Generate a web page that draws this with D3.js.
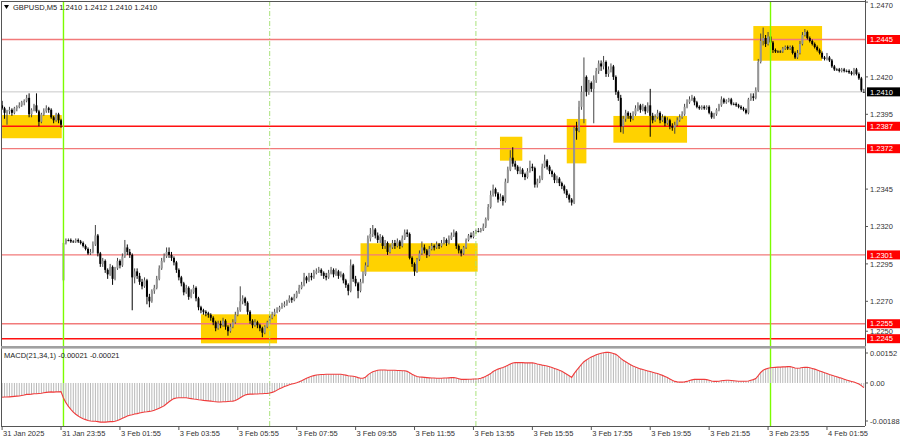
<!DOCTYPE html>
<html><head><meta charset="utf-8">
<script src="https://cdn.jsdelivr.net/npm/d3@7"></script>
<style>body{margin:0;background:#fff}svg{display:block}text{font-family:"Liberation Sans",Arial,sans-serif;font-size:7.5px}</style>
</head><body><svg id="c" width="900" height="441"></svg>
<script>
// ---------------- DATA ----------------
const symbol = "GBPUSD,M5";
const lastBar = ["1.2410","1.2412","1.2410","1.2410"];
const macdLabel = "MACD(21,34,1) -0.00021 -0.00021";

const open = [
1.2401,1.2399,1.2396,1.2397,1.2398,1.2396,1.2399,1.2400,1.2401,1.2403,
1.2404,1.2406,1.2395,1.2398,1.2401,1.2397,1.2390,1.2395,1.2397,1.2399,
1.2398,1.2393,1.2391,1.2395,1.2391,1.2284,1.2309,1.2311,1.2311,1.2310,
1.2310,1.2311,1.2310,1.2309,1.2307,1.2305,1.2302,1.2303,1.2308,1.2314,
1.2302,1.2295,1.2297,1.2291,1.2288,1.2293,1.2285,1.2292,1.2297,1.2294,
1.2300,1.2306,1.2303,1.2301,1.2286,1.2290,1.2287,1.2283,1.2280,1.2284,
1.2273,1.2270,1.2277,1.2279,1.2285,1.2292,1.2297,1.2300,1.2303,1.2301,
1.2299,1.2296,1.2291,1.2286,1.2282,1.2276,1.2279,1.2273,1.2276,1.2279,
1.2272,1.2266,1.2264,1.2263,1.2262,1.2261,1.2259,1.2256,1.2252,1.2255,
1.2254,1.2257,1.2253,1.2250,1.2253,1.2256,1.2261,1.2264,1.2270,1.2272,
1.2269,1.2263,1.2257,1.2254,1.2256,1.2254,1.2252,1.2249,1.2253,1.2256,
1.2259,1.2261,1.2263,1.2264,1.2266,1.2267,1.2268,1.2270,1.2272,1.2271,
1.2273,1.2276,1.2279,1.2281,1.2286,1.2284,1.2287,1.2286,1.2289,1.2290,
1.2291,1.2289,1.2287,1.2286,1.2289,1.2291,1.2288,1.2290,1.2287,1.2288,
1.2284,1.2281,1.2277,1.2294,1.2285,1.2282,1.2277,1.2283,1.2288,1.2294,
1.2312,1.2315,1.2318,1.2314,1.2311,1.2313,1.2307,1.2309,1.2303,1.2306,
1.2309,1.2307,1.2310,1.2307,1.2312,1.2316,1.2315,1.2299,1.2295,1.2290,
1.2298,1.2302,1.2306,1.2304,1.2301,1.2305,1.2307,1.2306,1.2308,1.2307,
1.2309,1.2311,1.2309,1.2312,1.2314,1.2316,1.2307,1.2304,1.2302,1.2306,
1.2311,1.2314,1.2313,1.2316,1.2317,1.2317,1.2318,1.2320,1.2325,1.2333,
1.2341,1.2345,1.2342,1.2338,1.2340,1.2337,1.2350,1.2358,1.2366,1.2362,
1.2360,1.2357,1.2358,1.2355,1.2353,1.2357,1.2360,1.2359,1.2348,1.2350,
1.2352,1.2360,1.2364,1.2360,1.2357,1.2355,1.2351,1.2352,1.2349,1.2347,
1.2344,1.2341,1.2338,1.2336,1.2386,1.2384,1.2400,1.2410,1.2420,1.2410,
1.2416,1.2412,1.2418,1.2424,1.2429,1.2427,1.2430,1.2422,1.2425,1.2427,
1.2420,1.2410,1.2406,1.2387,1.2392,1.2396,1.2394,1.2392,1.2395,1.2399,
1.2401,1.2398,1.2400,1.2397,1.2401,1.2394,1.2391,1.2393,1.2396,1.2391,
1.2393,1.2389,1.2391,1.2387,1.2386,1.2388,1.2391,1.2393,1.2395,1.2400,
1.2403,1.2405,1.2406,1.2403,1.2400,1.2399,1.2400,1.2399,1.2400,1.2396,
1.2393,1.2395,1.2398,1.2401,1.2405,1.2403,1.2404,1.2405,1.2402,1.2402,
1.2401,1.2400,1.2399,1.2398,1.2396,1.2405,1.2407,1.2406,1.2411,1.2430,
1.2444,1.2446,1.2442,1.2447,1.2443,1.2438,1.2437,1.2437,1.2437,1.2439,
1.2440,1.2439,1.2440,1.2436,1.2433,1.2436,1.2442,1.2448,1.2450,1.2446,
1.2444,1.2442,1.2440,1.2438,1.2436,1.2433,1.2432,1.2433,1.2431,1.2427,
1.2425,1.2425,1.2424,1.2425,1.2424,1.2424,1.2423,1.2422,1.2425,1.2422,
1.2419,1.2410];

const high = [
1.2404,1.2400,1.2398,1.2400,1.2399,1.2400,1.2401,1.2403,1.2404,1.2405,
1.2408,1.2409,1.2399,1.2402,1.2409,1.2398,1.2396,1.2399,1.2401,1.2400,
1.2399,1.2394,1.2396,1.2396,1.2392,1.2311,1.2312,1.2312,1.2312,1.2311,
1.2312,1.2312,1.2311,1.2310,1.2308,1.2306,1.2305,1.2310,1.2321,1.2315,
1.2303,1.2299,1.2298,1.2292,1.2295,1.2294,1.2293,1.2299,1.2298,1.2302,
1.2311,1.2308,1.2305,1.2302,1.2292,1.2292,1.2289,1.2285,1.2286,1.2285,
1.2275,1.2278,1.2281,1.2287,1.2294,1.2299,1.2302,1.2306,1.2306,1.2303,
1.2300,1.2297,1.2292,1.2287,1.2283,1.2281,1.2280,1.2278,1.2281,1.2280,
1.2273,1.2267,1.2265,1.2264,1.2263,1.2262,1.2260,1.2257,1.2257,1.2257,
1.2259,1.2258,1.2254,1.2255,1.2258,1.2263,1.2266,1.2280,1.2274,1.2273,
1.2270,1.2264,1.2258,1.2258,1.2257,1.2255,1.2253,1.2254,1.2257,1.2261,
1.2263,1.2265,1.2266,1.2267,1.2269,1.2270,1.2271,1.2274,1.2273,1.2275,
1.2277,1.2281,1.2283,1.2289,1.2287,1.2289,1.2289,1.2291,1.2292,1.2293,
1.2292,1.2290,1.2289,1.2291,1.2293,1.2292,1.2292,1.2291,1.2290,1.2289,
1.2285,1.2282,1.2298,1.2295,1.2287,1.2283,1.2285,1.2290,1.2296,1.2314,
1.2319,1.2321,1.2319,1.2316,1.2315,1.2314,1.2311,1.2310,1.2308,1.2311,
1.2311,1.2312,1.2311,1.2314,1.2318,1.2318,1.2316,1.2300,1.2296,1.2299,
1.2304,1.2310,1.2308,1.2305,1.2307,1.2309,1.2308,1.2310,1.2309,1.2311,
1.2313,1.2312,1.2314,1.2316,1.2318,1.2317,1.2308,1.2305,1.2307,1.2312,
1.2315,1.2316,1.2317,1.2318,1.2319,1.2319,1.2322,1.2326,1.2335,1.2344,
1.2348,1.2346,1.2343,1.2342,1.2341,1.2352,1.2360,1.2371,1.2373,1.2364,
1.2361,1.2360,1.2359,1.2356,1.2359,1.2364,1.2362,1.2360,1.2352,1.2354,
1.2362,1.2368,1.2365,1.2361,1.2358,1.2356,1.2354,1.2353,1.2350,1.2348,
1.2345,1.2342,1.2339,1.2387,1.2390,1.2404,1.2414,1.2433,1.2421,1.2418,
1.2417,1.2421,1.2426,1.2431,1.2431,1.2434,1.2431,1.2427,1.2429,1.2428,
1.2421,1.2411,1.2408,1.2394,1.2398,1.2397,1.2396,1.2397,1.2401,1.2403,
1.2402,1.2402,1.2401,1.2403,1.2412,1.2396,1.2395,1.2398,1.2397,1.2395,
1.2394,1.2393,1.2392,1.2389,1.2390,1.2393,1.2395,1.2397,1.2402,1.2405,
1.2407,1.2408,1.2407,1.2404,1.2401,1.2401,1.2401,1.2401,1.2401,1.2397,
1.2396,1.2399,1.2402,1.2407,1.2406,1.2405,1.2406,1.2406,1.2403,1.2403,
1.2402,1.2401,1.2400,1.2399,1.2406,1.2409,1.2409,1.2413,1.2432,1.2449,
1.2453,1.2448,1.2450,1.2448,1.2444,1.2439,1.2438,1.2438,1.2440,1.2441,
1.2441,1.2441,1.2441,1.2437,1.2438,1.2444,1.2450,1.2452,1.2451,1.2447,
1.2445,1.2443,1.2441,1.2439,1.2437,1.2434,1.2436,1.2434,1.2432,1.2428,
1.2426,1.2426,1.2426,1.2426,1.2425,1.2425,1.2424,1.2426,1.2426,1.2423,
1.2420,1.2412];

const low = [
1.2398,1.2392,1.2388,1.2395,1.2394,1.2395,1.2397,1.2399,1.2400,1.2401,
1.2403,1.2393,1.2393,1.2397,1.2396,1.2387,1.2389,1.2394,1.2396,1.2396,
1.2392,1.2389,1.2390,1.2389,1.2386,1.2283,1.2308,1.2310,1.2309,1.2309,
1.2309,1.2309,1.2308,1.2306,1.2304,1.2301,1.2301,1.2302,1.2307,1.2300,
1.2293,1.2293,1.2289,1.2285,1.2287,1.2281,1.2284,1.2291,1.2292,1.2293,
1.2299,1.2301,1.2299,1.2264,1.2282,1.2285,1.2281,1.2278,1.2279,1.2268,
1.2266,1.2269,1.2275,1.2278,1.2284,1.2291,1.2296,1.2299,1.2299,1.2297,
1.2294,1.2289,1.2284,1.2280,1.2274,1.2275,1.2271,1.2272,1.2275,1.2270,
1.2264,1.2262,1.2261,1.2260,1.2259,1.2257,1.2254,1.2250,1.2251,1.2252,
1.2253,1.2251,1.2247,1.2249,1.2252,1.2255,1.2260,1.2263,1.2268,1.2267,
1.2261,1.2255,1.2252,1.2253,1.2252,1.2250,1.2246,1.2248,1.2252,1.2255,
1.2258,1.2260,1.2262,1.2263,1.2265,1.2266,1.2267,1.2269,1.2269,1.2270,
1.2272,1.2275,1.2278,1.2280,1.2282,1.2283,1.2284,1.2285,1.2288,1.2289,
1.2287,1.2285,1.2284,1.2285,1.2288,1.2286,1.2287,1.2285,1.2286,1.2282,
1.2279,1.2274,1.2276,1.2283,1.2280,1.2272,1.2276,1.2282,1.2287,1.2293,
1.2310,1.2313,1.2312,1.2309,1.2309,1.2305,1.2305,1.2301,1.2302,1.2305,
1.2305,1.2306,1.2305,1.2306,1.2311,1.2313,1.2298,1.2293,1.2287,1.2289,
1.2297,1.2301,1.2302,1.2299,1.2300,1.2304,1.2304,1.2305,1.2305,1.2306,
1.2308,1.2307,1.2308,1.2311,1.2313,1.2305,1.2302,1.2300,1.2301,1.2305,
1.2310,1.2312,1.2312,1.2315,1.2316,1.2316,1.2317,1.2319,1.2324,1.2332,
1.2340,1.2340,1.2336,1.2337,1.2334,1.2336,1.2349,1.2357,1.2360,1.2358,
1.2355,1.2355,1.2353,1.2351,1.2352,1.2356,1.2357,1.2346,1.2346,1.2349,
1.2351,1.2359,1.2358,1.2355,1.2353,1.2349,1.2349,1.2347,1.2345,1.2342,
1.2339,1.2336,1.2334,1.2335,1.2378,1.2383,1.2398,1.2389,1.2407,1.2408,
1.2410,1.2389,1.2416,1.2422,1.2424,1.2425,1.2420,1.2420,1.2423,1.2418,
1.2408,1.2404,1.2383,1.2382,1.2390,1.2392,1.2390,1.2391,1.2394,1.2397,
1.2396,1.2397,1.2395,1.2396,1.2380,1.2389,1.2390,1.2392,1.2389,1.2390,
1.2387,1.2388,1.2385,1.2384,1.2382,1.2387,1.2390,1.2392,1.2394,1.2399,
1.2402,1.2404,1.2401,1.2399,1.2398,1.2398,1.2398,1.2398,1.2395,1.2392,
1.2392,1.2394,1.2397,1.2400,1.2402,1.2402,1.2403,1.2401,1.2401,1.2400,
1.2399,1.2398,1.2397,1.2395,1.2395,1.2404,1.2404,1.2405,1.2410,1.2429,
1.2441,1.2440,1.2441,1.2441,1.2436,1.2436,1.2436,1.2436,1.2436,1.2438,
1.2438,1.2438,1.2435,1.2432,1.2432,1.2435,1.2441,1.2447,1.2445,1.2443,
1.2441,1.2439,1.2437,1.2435,1.2432,1.2431,1.2431,1.2430,1.2426,1.2424,
1.2424,1.2423,1.2423,1.2423,1.2423,1.2422,1.2421,1.2421,1.2421,1.2418,
1.2410,1.2410];

const close = [
1.2399,1.2396,1.2397,1.2398,1.2396,1.2399,1.2400,1.2401,1.2403,1.2404,
1.2406,1.2395,1.2398,1.2401,1.2397,1.2390,1.2395,1.2397,1.2399,1.2398,
1.2393,1.2391,1.2395,1.2391,1.2388,1.2309,1.2311,1.2311,1.2310,1.2310,
1.2311,1.2310,1.2309,1.2307,1.2305,1.2302,1.2303,1.2308,1.2314,1.2302,
1.2295,1.2297,1.2291,1.2288,1.2293,1.2285,1.2292,1.2297,1.2294,1.2300,
1.2306,1.2303,1.2301,1.2286,1.2290,1.2287,1.2283,1.2280,1.2284,1.2273,
1.2270,1.2277,1.2279,1.2285,1.2292,1.2297,1.2300,1.2303,1.2301,1.2299,
1.2296,1.2291,1.2286,1.2282,1.2276,1.2279,1.2273,1.2276,1.2279,1.2272,
1.2266,1.2264,1.2263,1.2262,1.2261,1.2259,1.2256,1.2252,1.2255,1.2254,
1.2257,1.2253,1.2250,1.2253,1.2256,1.2261,1.2264,1.2270,1.2272,1.2269,
1.2263,1.2257,1.2254,1.2256,1.2254,1.2252,1.2249,1.2253,1.2256,1.2259,
1.2261,1.2263,1.2264,1.2266,1.2267,1.2268,1.2270,1.2272,1.2271,1.2273,
1.2276,1.2279,1.2281,1.2286,1.2284,1.2287,1.2286,1.2289,1.2290,1.2291,
1.2289,1.2287,1.2286,1.2289,1.2291,1.2288,1.2290,1.2287,1.2288,1.2284,
1.2281,1.2277,1.2294,1.2285,1.2282,1.2277,1.2283,1.2288,1.2294,1.2312,
1.2315,1.2318,1.2314,1.2311,1.2313,1.2307,1.2309,1.2303,1.2306,1.2309,
1.2307,1.2310,1.2307,1.2312,1.2316,1.2315,1.2299,1.2295,1.2290,1.2298,
1.2302,1.2306,1.2304,1.2301,1.2305,1.2307,1.2306,1.2308,1.2307,1.2309,
1.2311,1.2309,1.2312,1.2314,1.2316,1.2307,1.2304,1.2302,1.2306,1.2311,
1.2314,1.2313,1.2316,1.2317,1.2317,1.2318,1.2320,1.2325,1.2333,1.2341,
1.2345,1.2342,1.2338,1.2340,1.2337,1.2350,1.2358,1.2366,1.2362,1.2360,
1.2357,1.2358,1.2355,1.2353,1.2357,1.2360,1.2359,1.2348,1.2350,1.2352,
1.2360,1.2364,1.2360,1.2357,1.2355,1.2351,1.2352,1.2349,1.2347,1.2344,
1.2341,1.2338,1.2336,1.2386,1.2384,1.2400,1.2410,1.2420,1.2410,1.2416,
1.2412,1.2418,1.2424,1.2429,1.2427,1.2430,1.2422,1.2425,1.2427,1.2420,
1.2410,1.2406,1.2387,1.2392,1.2396,1.2394,1.2392,1.2395,1.2399,1.2401,
1.2398,1.2400,1.2397,1.2401,1.2394,1.2391,1.2393,1.2396,1.2391,1.2393,
1.2389,1.2391,1.2387,1.2386,1.2388,1.2391,1.2393,1.2395,1.2400,1.2403,
1.2405,1.2406,1.2403,1.2400,1.2399,1.2400,1.2399,1.2400,1.2396,1.2393,
1.2395,1.2398,1.2401,1.2405,1.2403,1.2404,1.2405,1.2402,1.2402,1.2401,
1.2400,1.2399,1.2398,1.2396,1.2405,1.2407,1.2406,1.2411,1.2430,1.2444,
1.2446,1.2442,1.2447,1.2443,1.2438,1.2437,1.2437,1.2437,1.2439,1.2440,
1.2439,1.2440,1.2436,1.2433,1.2436,1.2442,1.2448,1.2450,1.2446,1.2444,
1.2442,1.2440,1.2438,1.2436,1.2433,1.2432,1.2433,1.2431,1.2427,1.2425,
1.2425,1.2424,1.2425,1.2424,1.2424,1.2423,1.2422,1.2425,1.2422,1.2419,
1.2411,1.2410];

// MACD main line, in units of 0.00001 (signal SMA(1) equals it)
const macdE5 = [
-64,-63,-63,-62,-61,-60,-59,-58,-56,-54,
-51,-51,-50,-48,-48,-47,-46,-44,-42,-41,
-40,-41,-40,-40,-39,-67,-88,-105,-118,-130,
-140,-148,-155,-160,-164,-168,-170,-171,-171,-173,
-175,-175,-175,-174,-173,-173,-171,-168,-163,-158,
-153,-148,-144,-142,-139,-137,-134,-132,-130,-129,
-127,-125,-122,-118,-113,-108,-102,-93,-84,-76,
-70,-67,-66,-66,-66,-66,-68,-70,-72,-73,
-75,-76,-78,-79,-80,-81,-83,-84,-85,-85,
-84,-84,-83,-82,-81,-78,-73,-66,-59,-54,
-51,-50,-50,-49,-49,-48,-48,-47,-47,-45,
-42,-38,-32,-26,-21,-16,-12,-8,-5,-2,
1,5,10,16,21,26,30,33,36,37,
38,38,39,39,39,39,39,39,39,37,
35,32,31,30,28,24,21,21,26,36,
44,50,54,57,58,58,58,57,57,57,
57,56,56,55,55,52,46,39,33,29,
27,26,25,24,23,22,22,21,21,21,
22,22,23,24,24,22,19,16,16,16,
17,17,18,18,19,21,25,30,36,42,
51,57,62,66,69,74,79,85,89,91,
91,91,91,90,90,90,90,88,85,83,
80,78,76,73,69,65,61,57,52,46,
39,32,25,42,56,70,83,95,103,110,
116,121,126,130,133,135,137,137,135,132,
128,120,110,102,95,88,82,76,71,67,
63,60,57,54,51,48,45,42,38,34,
29,24,18,12,7,5,4,4,5,7,
11,14,16,16,16,16,16,15,12,9,
7,7,8,10,11,12,12,11,10,9,
8,8,8,8,9,12,15,20,33,47,
57,62,66,68,69,70,71,71,72,72,
73,73,70,67,66,67,69,70,70,68,
65,62,58,54,50,46,42,38,35,31,
28,24,21,17,13,10,7,4,0,-5,
-12,-21];

const timeLabels = ["31 Jan 2025","31 Jan 23:55","3 Feb 01:55","3 Feb 03:55","3 Feb 05:55","3 Feb 07:55","3 Feb 09:55","3 Feb 11:55","3 Feb 13:55","3 Feb 15:55","3 Feb 17:55","3 Feb 19:55","3 Feb 21:55","3 Feb 23:55","4 Feb 01:55"];
const timeLabelBars = [0,24,48,72,96,120,144,168,192,216,240,264,288,312,336];

const priceTicks = [1.2470,1.2420,1.2395,1.2345,1.2320,1.2295,1.2270,1.2250];
const levels = [1.2445,1.2387,1.2372,1.2301,1.2255,1.2245];
const strongLevels = [1.2387,1.2245];
const currentPrice = 1.2410;

const dayLineBars = [25,313];
const sessionLineBars = [109,193];

const zoneStart = [0,81,146,202.8,230,249,306];
const zoneEnd   = [24.3,112,193.7,211.9,238,279,334];
const zoneTop   = [1.23945,1.22613,1.23088,1.23800,1.23919,1.23939,1.24540];
const zoneBot   = [1.23790,1.22419,1.22898,1.23640,1.23622,1.23760,1.24308];

const macdTicks = [0.00152,0.00,-0.00188];
const macdTickText = ["0.00152","0.00","-0.00188"];

// ---------------- DRAW ----------------
const svg = d3.select("#c");
const N = close.length;
const plotR = 865, mainTop = 1, mainBot = 345, macdTop = 349, macdBot = 426;

const x = d3.scaleLinear().domain([0, 351]).range([2.1, 2.1 + 351*2.455]);
const y = d3.scaleLinear().domain([1.2245, 1.2445]).range([338.7, 39.5]);
const ym = d3.scaleLinear().domain([-0.00188, 0.00152]).range([425, 349]);

svg.append("rect").attr("width",900).attr("height",441).attr("fill","#fff");

const defs = svg.append("defs");
defs.append("clipPath").attr("id","cm").append("rect")
  .attr("x",2).attr("y",mainTop+0.5).attr("width",plotR-2).attr("height",mainBot-mainTop-0.5);
defs.append("clipPath").attr("id","cd").append("rect")
  .attr("x",2).attr("y",macdTop).attr("width",plotR-2).attr("height",macdBot-macdTop);

const gm = svg.append("g").attr("clip-path","url(#cm)");

// zones
gm.selectAll("rect.zone").data(zoneStart).join("rect").attr("class","zone")
  .attr("x",(d,i)=>x(d)).attr("width",(d,i)=>x(zoneEnd[i])-x(d))
  .attr("y",(d,i)=>y(zoneTop[i])).attr("height",(d,i)=>y(zoneBot[i])-y(zoneTop[i]))
  .attr("fill","#FFD200");

// current price line
gm.append("line").attr("x1",2).attr("x2",plotR).attr("y1",y(currentPrice)).attr("y2",y(currentPrice))
  .attr("stroke","#c8c8c8").attr("stroke-width",1);

// level lines
gm.selectAll("line.lvl").data(levels).join("line").attr("class","lvl")
  .attr("x1",2).attr("x2",plotR).attr("y1",d=>y(d)).attr("y2",d=>y(d))
  .attr("stroke",d=>strongLevels.includes(d)?"#ff1010":"#f27a7a")
  .attr("stroke-width",d=>strongLevels.includes(d)?1.6:1.3);

// vertical lines (both panels)
const vl = svg.append("g");
sessionLineBars.forEach(b=>{
  vl.append("line").attr("x1",x(b)).attr("x2",x(b)).attr("y1",mainTop).attr("y2",macdBot)
    .attr("stroke","#a9e27a").attr("stroke-width",1).attr("stroke-dasharray","5,2,1,2");
});
dayLineBars.forEach(b=>{
  vl.append("line").attr("x1",x(b)).attr("x2",x(b)).attr("y1",mainTop).attr("y2",macdBot)
    .attr("stroke","#7CFC00").attr("stroke-width",1.4);
});

// candles
const idx = d3.range(N);
const cg = gm.append("g");
cg.selectAll("line.wick").data(idx).join("line").attr("class","wick")
  .attr("x1",i=>x(i)).attr("x2",i=>x(i))
  .attr("y1",i=>y(high[i])).attr("y2",i=>y(low[i]))
  .attr("stroke",i=>close[i]>=open[i]?"#444":"#000").attr("stroke-width",1);
cg.selectAll("rect.body").data(idx).join("rect").attr("class","body")
  .attr("x",i=>x(i)-1).attr("width",2)
  .attr("y",i=>y(Math.max(open[i],close[i])))
  .attr("height",i=>Math.max(0.9, Math.abs(y(open[i])-y(close[i]))))
  .attr("fill",i=>close[i]>open[i]?"#959595":"#000");

// MACD
const gd = svg.append("g").attr("clip-path","url(#cd)");
const macd = macdE5.map(v=>v*1e-5);
gd.selectAll("line.h").data(idx).join("line").attr("class","h")
  .attr("x1",i=>x(i)).attr("x2",i=>x(i))
  .attr("y1",ym(0)).attr("y2",i=>ym(macd[i]))
  .attr("stroke","#b8b8b8").attr("stroke-width",1);
gd.append("path").datum(idx)
  .attr("d",d3.line().x(i=>x(i)).y(i=>ym(macd[i])))
  .attr("fill","none").attr("stroke","#f03c3c").attr("stroke-width",1.1);

// frames
const fr = svg.append("g").attr("stroke","#555").attr("fill","none");
fr.append("line").attr("x1",1).attr("x2",plotR).attr("y1",mainTop+0.5).attr("y2",mainTop+0.5);
fr.append("line").attr("x1",1.5).attr("x2",1.5).attr("y1",mainTop).attr("y2",macdBot);
fr.append("line").attr("x1",plotR+0.5).attr("x2",plotR+0.5).attr("y1",0).attr("y2",macdBot);
fr.append("line").attr("x1",1).attr("x2",plotR).attr("y1",macdBot+0.5).attr("y2",macdBot+0.5);
svg.append("rect").attr("x",1).attr("y",mainBot+1).attr("width",plotR).attr("height",2.6).attr("fill","#a0a0a0");

// header
svg.append("path").attr("d","M4,5 L9,5 L6.5,9 Z").attr("fill","#000");
svg.append("text").attr("x",13).attr("y",10).attr("fill","#222")
  .text(symbol + "  " + lastBar.join(" "));
svg.append("text").attr("x",4).attr("y",358).attr("fill","#222").text(macdLabel);

// right price axis ticks
const ax = svg.append("g");
ax.selectAll("line.pt").data(priceTicks).join("line").attr("class","pt")
  .attr("x1",plotR).attr("x2",plotR+3).attr("y1",d=>y(d)).attr("y2",d=>y(d)).attr("stroke","#555");
ax.selectAll("text.pt").data(priceTicks).join("text").attr("class","pt")
  .attr("x",plotR+5).attr("y",d=>Math.max(y(d)+2.7, 7.8)).attr("fill","#333").text(d=>d.toFixed(4));

// level price boxes
const lb = svg.append("g");
lb.selectAll("rect").data(levels).join("rect")
  .attr("x",plotR+2).attr("width",900-plotR-2).attr("y",d=>y(d)-4.5).attr("height",9).attr("fill","#ff0000");
lb.selectAll("text").data(levels).join("text")
  .attr("x",plotR+5).attr("y",d=>y(d)+2.7).attr("fill","#fff").text(d=>d.toFixed(4));
svg.append("rect").attr("x",plotR+2).attr("width",900-plotR-2).attr("y",y(currentPrice)-4.5).attr("height",9).attr("fill","#000");
svg.append("text").attr("x",plotR+5).attr("y",y(currentPrice)+2.7).attr("fill","#fff").text(currentPrice.toFixed(4));

// MACD axis
const offs = [4, 0, -4];
ax.selectAll("text.mt").data(macdTicks).join("text").attr("class","mt")
  .attr("x",plotR+5).attr("y",(d,i)=>ym(d)+offs[i]+2.7).attr("fill","#333").text((d,i)=>macdTickText[i]);
ax.selectAll("line.mt").data(macdTicks).join("line").attr("class","mt")
  .attr("x1",plotR).attr("x2",plotR+3).attr("y1",(d,i)=>ym(d)+offs[i]).attr("y2",(d,i)=>ym(d)+offs[i]).attr("stroke","#555");

// time axis
const tx = svg.append("g");
tx.selectAll("line").data(timeLabelBars).join("line")
  .attr("x1",b=>x(b)).attr("x2",b=>x(b)).attr("y1",macdBot).attr("y2",macdBot+4).attr("stroke","#555");
tx.selectAll("text").data(timeLabelBars).join("text")
  .attr("x",b=>x(b)+1).attr("y",436).attr("fill","#333").text((b,i)=>timeLabels[i]);
</script>
</body></html>
